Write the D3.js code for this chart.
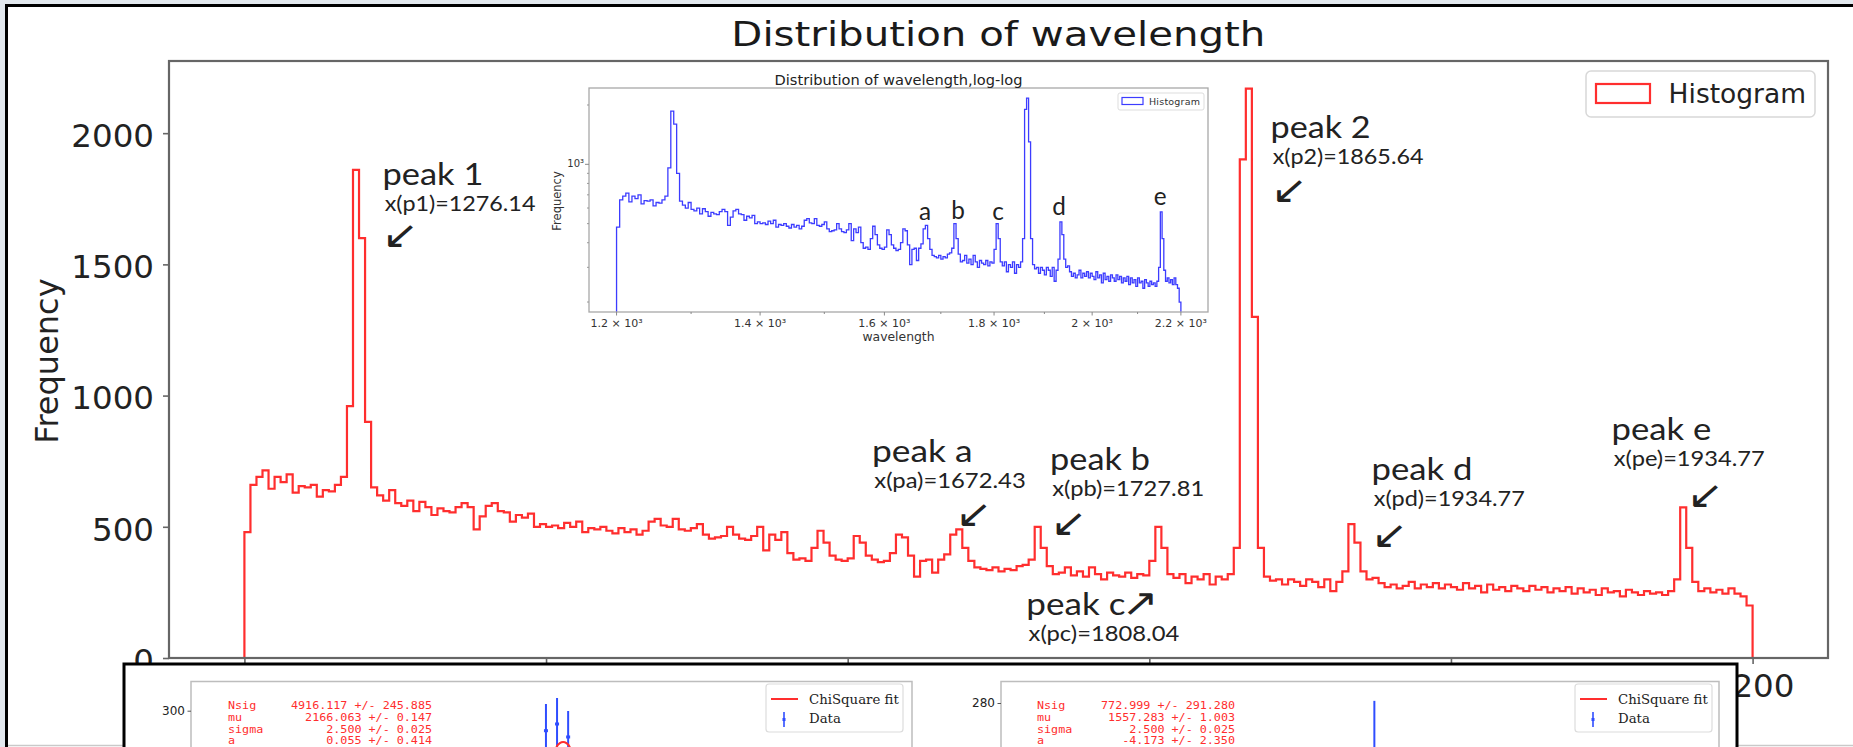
<!DOCTYPE html>
<html><head><meta charset="utf-8">
<script src="https://cdn.jsdelivr.net/npm/d3@7"></script>
<style>
html,body{margin:0;padding:0;background:#e2e8ee;overflow:hidden}
svg{display:block}
</style></head><body>
<svg id="chart" width="1853" height="747"></svg>
<script>
// ================= DATA =================
const binStart = 1200;
const binWidth = 4;
const counts = [
480,660,690,715,645,690,670,700,630,655,650,660,615,640,635,660,690,960,1860,1600,
900,650,620,600,640,590,580,600,560,595,575,545,570,560,555,575,590,575,490,540,
580,590,560,555,520,545,535,550,500,510,500,505,495,515,500,520,480,495,490,500,
485,475,495,480,490,470,485,520,530,505,500,530,490,485,495,510,470,455,460,465,
500,470,455,450,465,500,410,470,450,480,400,375,380,370,420,485,440,390,375,370,
380,465,440,390,375,365,370,400,470,460,390,310,370,375,325,375,395,470,490,420,
370,345,340,335,345,330,340,335,350,355,375,500,420,350,320,325,345,315,330,310,
345,320,300,325,315,310,325,305,320,315,370,500,420,320,305,320,285,310,300,320,
280,310,300,320,420,1900,2170,1300,420,310,295,300,280,300,290,275,300,290,270,300,
255,290,330,510,440,330,300,305,285,270,280,265,275,290,265,280,270,285,265,280,
270,260,285,265,275,250,280,260,270,255,275,265,255,275,260,270,250,265,255,270,
245,265,250,260,240,265,250,255,235,260,250,240,255,245,250,240,255,300,574,420,
290,255,265,250,260,245,265,245,235,200];
const xTicks = [1200, 1400, 1600, 1800, 2000, 2200];
const yTicks = [0, 500, 1000, 1500, 2000];
const insetXTicks = [1200, 1300, 1400, 1500, 1600, 1700, 1800, 1900, 2000, 2100, 2200];
const insetXLabels = [1200, 1400, 1600, 1800, 2000, 2200];
const insetYMinor = [200, 300, 400, 500, 600, 700, 800, 900, 2000];

const peakTitles = ["peak 1", "peak 2", "peak a", "peak b", "peak c", "peak d", "peak e"];
const peakValues = ["x(p1)=1276.14", "x(p2)=1865.64", "x(pa)=1672.43", "x(pb)=1727.81",
                    "x(pc)=1808.04", "x(pd)=1934.77", "x(pe)=1934.77"];
const peakArrows = ["↙", "↙", "↙", "↙", "↗", "↙", "↙"];
// label anchor in data units (wavelength, frequency)
const peakLabelX = [1293.2, 1882.0, 1617.8, 1735.8, 1720.1, 1949.0, 2108.1];
const peakLabelY = [1802.5, 1981.6, 748.0, 716.4, 163.9, 678.3, 830.7];

const insetLetters = ["a", "b", "c", "d", "e"];
const insetLetterX = [1671.5, 1731.8, 1807.9, 1930, 2151.5];
const insetLetterY = [521.7, 524.8, 521.7, 553, 621.7];

// bottom fit panels
const fitNames = ["Nsig", "mu", "sigma", "a"];
const fitLeftValues = ["4916.117 +/- 245.885", "2166.063 +/- 0.147", "2.500 +/- 0.025", "0.055 +/- 0.414"];
const fitRightValues = ["772.999 +/- 291.280", "1557.283 +/- 1.003", "2.500 +/- 0.025", "-4.173 +/- 2.350"];
const leftDataX = [2164, 2166, 2168];
const leftDataY = [286.3, 290.9, 282.0];
const leftDataErr = [18.3, 17.8, 17.8];
const leftFitX = [2165.3, 2165.9, 2166.5, 2167.1, 2167.7, 2168.3, 2168.9];
const leftFitY = [250, 275, 277.8, 278.6, 277.8, 275, 250];
const rightDataX = [1557.6];
const rightDataY = [236];
const rightDataErr = [46];

// ================= HELPERS =================
const W = 1853, H = 747;
const svg = d3.select('#chart');
const cv = document.createElement('canvas').getContext('2d');
function inkOf(str, family) {
  cv.font = `100px "${family}"`;
  const m = cv.measureText(str);
  return {L: m.actualBoundingBoxLeft, R: m.actualBoundingBoxRight,
          A: m.actualBoundingBoxAscent, D: m.actualBoundingBoxDescent, W: m.width};
}
// place text so that its ink fits [x0,x1] x [y0,y1]
function placeInk(g, str, family, x0, x1, y0, y1, fill) {
  const m = inkOf(str, family);
  const s = (y1 - y0) / (m.A + m.D);
  const k = (x1 - x0) / ((m.L + m.R) * s);
  const t = g.append('text').text(str)
    .attr('font-family', family).attr('font-size', (100 * s).toFixed(2))
    .attr('x', x0 + m.L * s * k).attr('y', y0 + m.A * s).attr('fill', fill);
  if (Math.abs(k - 1) > 0.01) t.attr('textLength', (m.W * s * k).toFixed(2)).attr('lengthAdjust', 'spacingAndGlyphs');
  return t;
}

// ================= FRAME =================
svg.append('rect').attr('width', W).attr('height', H).attr('fill', '#e2e8ee');
svg.append('rect').attr('x', 6.5).attr('y', 5.5).attr('width', W + 10).attr('height', H + 10)
  .attr('fill', '#fff').attr('stroke', '#000').attr('stroke-width', 3);
svg.append('line').attr('x1', 8).attr('x2', W).attr('y1', 745.5).attr('y2', 745.5)
  .attr('stroke', '#c9c9c9').attr('stroke-width', 1.5);

// ================= MAIN AXES =================
const panelLeft = 124, panelRight = 1737, panelTop = 664;
const x = d3.scaleLinear().domain([1150, 2250]).range([169, 1828]);
const y = d3.scaleLinear().domain([0, 2275]).range([658, 61]);
const main = svg.append('g');

const edges = d3.range(counts.length + 1).map(i => binStart + i * binWidth);
const pts = [{e: edges[0], c: 0}].concat(counts.map((c, i) => ({e: edges[i], c})), [{e: edges[counts.length], c: 0}]);

const yAx = main.append('g').attr('transform', 'translate(169,0)')
  .call(d3.axisLeft(y).tickValues(yTicks).tickSize(6).tickPadding(9).tickFormat(d3.format('d')));
const xAx = main.append('g').attr('transform', 'translate(0,658)')
  .call(d3.axisBottom(x).tickValues(xTicks).tickSize(6).tickPadding(10).tickFormat(d3.format('d')));
[yAx, xAx].forEach(a => {
  a.select('.domain').remove();
  a.selectAll('line').attr('stroke', '#666').attr('stroke-width', 1.6);
  a.selectAll('text').attr('font-family', 'DejaVu Sans').attr('font-size', 32.5).attr('fill', '#222');
});
yAx.selectAll('text').attr('dy', '0.41em');
// tick labels that lie completely under the pasted fit panel are not visible in the picture
xAx.selectAll('.tick text').filter(d => x(d) + 42 < panelRight).remove();

main.append('path').datum(pts)
  .attr('d', d3.line().x(d => x(d.e)).y(d => y(d.c)).curve(d3.curveStepAfter))
  .attr('fill', 'none').attr('stroke', '#ff2e2e').attr('stroke-width', 2.2);

main.append('rect').attr('x', 169).attr('y', 61).attr('width', 1659).attr('height', 597)
  .attr('fill', 'none').attr('stroke', '#666').attr('stroke-width', 2.2);

placeInk(main, 'Distribution of wavelength', 'DejaVu Sans', 735, 1262, 20, 53.5, '#1a1a1a');
main.append('text').text('Frequency').attr('transform', 'translate(57.5,361) rotate(-90)')
  .attr('text-anchor', 'middle').attr('font-family', 'DejaVu Sans').attr('font-size', 32).attr('fill', '#222');

main.append('rect').attr('x', 1586).attr('y', 71).attr('width', 229).attr('height', 46).attr('rx', 5)
  .attr('fill', '#fff').attr('stroke', '#d8d8d8').attr('stroke-width', 1.5);
main.append('rect').attr('x', 1596).attr('y', 84).attr('width', 54).attr('height', 19)
  .attr('fill', 'none').attr('stroke', '#ff2e2e').attr('stroke-width', 2.2);
placeInk(main, 'Histogram', 'DejaVu Sans', 1671, 1804, 83.3, 109, '#222');

const ann = main.append('g');
peakTitles.forEach((t, i) => {
  const ax = x(peakLabelX[i]), by = y(peakLabelY[i]);
  placeInk(ann, t, 'Lato', ax, ax + 96, by - 22, by + 5.5, '#222');
  placeInk(ann, peakValues[i], 'Lato', ax, ax + 150, by + 10, by + 30, '#222');
});
const arrowDX = [3, 4, 87, 4, 99, 3, 79];
const arrowDY = [40, 42, 43, 43, -22, 45, 45];
peakArrows.forEach((a, i) => {
  const ax = x(peakLabelX[i]) + arrowDX[i], ay = y(peakLabelY[i]) + arrowDY[i];
  placeInk(ann, a, 'DejaVu Sans', ax, ax + 25, ay, ay + 22, '#222');
});

// ================= INSET =================
const xi = d3.scaleLog().domain([1165, 2265]).range([589, 1208]);
const yi = d3.scaleLog().domain([178, 2440]).range([312, 88]);
const ins = svg.append('g');
svg.append('defs').append('clipPath').attr('id', 'insClip').append('rect')
  .attr('x', 589).attr('y', 88).attr('width', 619).attr('height', 224);
ins.append('path').datum(pts).attr('clip-path', 'url(#insClip)')
  .attr('d', d3.line().x(d => xi(d.e)).y(d => d.c > 0 ? yi(d.c) : 316).curve(d3.curveStepAfter))
  .attr('fill', 'none').attr('stroke', '#3c3cff').attr('stroke-width', 1.3);
ins.append('rect').attr('x', 589).attr('y', 88).attr('width', 619).attr('height', 224)
  .attr('fill', 'none').attr('stroke', '#a8a8a8').attr('stroke-width', 1.3);
ins.selectAll('.xt').data(insetXTicks).join('line')
  .attr('x1', d => xi(d)).attr('x2', d => xi(d)).attr('y1', 312).attr('y2', d => insetXLabels.includes(d) ? 315.5 : 314)
  .attr('stroke', '#888').attr('stroke-width', 1);
ins.selectAll('.xl').data(insetXLabels).join('text')
  .text(d => `${d3.format('~g')(d / 1000)} × 10³`)
  .attr('x', d => xi(d)).attr('y', 326.5).attr('text-anchor', 'middle')
  .attr('font-family', 'DejaVu Sans').attr('font-size', 11).attr('fill', '#333');
ins.append('line').attr('x1', 585).attr('x2', 589).attr('y1', yi(1000)).attr('y2', yi(1000)).attr('stroke', '#888');
ins.selectAll('.ym').data(insetYMinor).join('line')
  .attr('x1', 587).attr('x2', 589).attr('y1', d => yi(d)).attr('y2', d => yi(d)).attr('stroke', '#999');
ins.append('text').text('10³').attr('x', 584).attr('y', yi(1000) + 3).attr('text-anchor', 'end')
  .attr('font-family', 'DejaVu Sans').attr('font-size', 10).attr('fill', '#333');
ins.append('text').text('Distribution of wavelength,log-log').attr('x', 898.5).attr('y', 84.5)
  .attr('text-anchor', 'middle').attr('font-family', 'DejaVu Sans').attr('font-size', 14.6).attr('fill', '#222');
ins.append('text').text('wavelength').attr('x', 898.5).attr('y', 341)
  .attr('text-anchor', 'middle').attr('font-family', 'DejaVu Sans').attr('font-size', 12.4).attr('fill', '#333');
ins.append('text').text('Frequency').attr('transform', 'translate(561,201) rotate(-90)')
  .attr('text-anchor', 'middle').attr('font-family', 'DejaVu Sans').attr('font-size', 11.5).attr('fill', '#333');
ins.append('rect').attr('x', 1118).attr('y', 93).attr('width', 86).attr('height', 17).attr('rx', 2)
  .attr('fill', '#fff').attr('stroke', '#ddd');
ins.append('rect').attr('x', 1122).attr('y', 97.5).attr('width', 21).attr('height', 7)
  .attr('fill', 'none').attr('stroke', '#3c3cff').attr('stroke-width', 1.2);
ins.append('text').text('Histogram').attr('x', 1149).attr('y', 105)
  .attr('font-family', 'DejaVu Sans').attr('font-size', 9.5).attr('textLength', 51).attr('fill', '#333');
const bInk = inkOf('b', 'Lato');
const letterFs = 100 * 18 / bInk.A;
ins.selectAll('.lt').data(insetLetters).join('text').text(d => d)
  .attr('x', (d, i) => xi(insetLetterX[i])).attr('y', (d, i) => yi(insetLetterY[i]))
  .attr('text-anchor', 'middle').attr('font-family', 'Lato').attr('font-size', letterFs.toFixed(2)).attr('fill', '#222');

// ================= BOTTOM PANEL =================
const bp = svg.append('g');
bp.append('rect').attr('x', panelLeft).attr('y', panelTop).attr('width', panelRight - panelLeft).attr('height', 200)
  .attr('fill', '#fff').attr('stroke', '#000').attr('stroke-width', 3);

function fitPanel(cfg) {
  const g = bp.append('g');
  const xs = d3.scaleLinear().domain(cfg.xd).range(cfg.xr);
  const ys = d3.scaleLinear().domain(cfg.yd).range(cfg.yr);
  g.append('rect').attr('x', cfg.xr[0]).attr('y', cfg.yr[1]).attr('width', cfg.xr[1] - cfg.xr[0]).attr('height', 200)
    .attr('fill', 'none').attr('stroke', '#bdbdbd').attr('stroke-width', 1.5);
  const ax = g.append('g').attr('transform', `translate(${cfg.xr[0]},0)`)
    .call(d3.axisLeft(ys).tickValues([cfg.tick]).tickSize(3.5).tickPadding(2.5));
  ax.select('.domain').remove();
  ax.selectAll('line').attr('stroke', '#555');
  ax.selectAll('text').attr('font-family', 'DejaVu Sans').attr('font-size', 12).attr('fill', '#222');
  cfg.dx.forEach((d, i) => {
    g.append('line').attr('x1', xs(d)).attr('x2', xs(d))
      .attr('y1', ys(cfg.dy[i] - cfg.de[i])).attr('y2', ys(cfg.dy[i] + cfg.de[i]))
      .attr('stroke', '#2f4dff').attr('stroke-width', 2);
    g.append('rect').attr('x', xs(d) - 2).attr('y', ys(cfg.dy[i]) - 1.5).attr('width', 4).attr('height', 3)
      .attr('fill', '#2f4dff');
  });
  if (cfg.fx) {
    g.append('path').datum(cfg.fx.map((v, i) => [v, cfg.fy[i]]))
      .attr('d', d3.line().x(d => xs(d[0])).y(d => ys(d[1])).curve(d3.curveMonotoneX))
      .attr('fill', 'none').attr('stroke', '#ff2e2e').attr('stroke-width', 2);
  }
  const base = [708.5, 720.5, 732.5, 744.3];
  const cw = 7.05; // monospace character pitch
  fitNames.forEach((n, i) => {
    g.append('text').text(n).attr('x', cfg.nameX).attr('y', base[i])
      .attr('font-family', 'DejaVu Sans Mono').attr('font-size', 10.3)
      .attr('textLength', n.length * cw).attr('lengthAdjust', 'spacingAndGlyphs').attr('fill', '#ff2e2e');
    g.append('text').text(cfg.vals[i]).attr('x', cfg.valX - cfg.vals[i].length * cw).attr('y', base[i])
      .attr('font-family', 'DejaVu Sans Mono').attr('font-size', 10.3)
      .attr('textLength', cfg.vals[i].length * cw).attr('lengthAdjust', 'spacingAndGlyphs').attr('fill', '#ff2e2e');
  });
  const lx = cfg.legX;
  g.append('rect').attr('x', lx).attr('y', 684).attr('width', 137).attr('height', 48).attr('rx', 3)
    .attr('fill', '#fff').attr('stroke', '#dcdcdc').attr('stroke-width', 1.2);
  g.append('line').attr('x1', lx + 5).attr('x2', lx + 32).attr('y1', 699).attr('y2', 699)
    .attr('stroke', '#ff2e2e').attr('stroke-width', 2);
  g.append('text').text('ChiSquare fit').attr('x', lx + 43).attr('y', 704)
    .attr('font-family', 'DejaVu Serif').attr('font-size', 13.3).attr('fill', '#222');
  g.append('line').attr('x1', lx + 18).attr('x2', lx + 18).attr('y1', 712).attr('y2', 727)
    .attr('stroke', '#2f4dff').attr('stroke-width', 1.6);
  g.append('rect').attr('x', lx + 16.5).attr('y', 718).attr('width', 3).attr('height', 3).attr('fill', '#2f4dff');
  g.append('text').text('Data').attr('x', lx + 43).attr('y', 723.3)
    .attr('font-family', 'DejaVu Serif').attr('font-size', 13.3).attr('fill', '#222');
}
fitPanel({xd: [2100, 2230], xr: [191, 912], yd: [0, 320], yr: [1148.7, 681.5], tick: 300,
  dx: leftDataX, dy: leftDataY, de: leftDataErr, fx: leftFitX, fy: leftFitY,
  vals: fitLeftValues, nameX: 228, valX: 432, legX: 766});
fitPanel({xd: [1490, 1620], xr: [1001, 1719], yd: [0, 300], yr: [1004, 681.5], tick: 280,
  dx: rightDataX, dy: rightDataY, de: rightDataErr,
  vals: fitRightValues, nameX: 1037, valX: 1235, legX: 1575});
</script>
</body></html>
